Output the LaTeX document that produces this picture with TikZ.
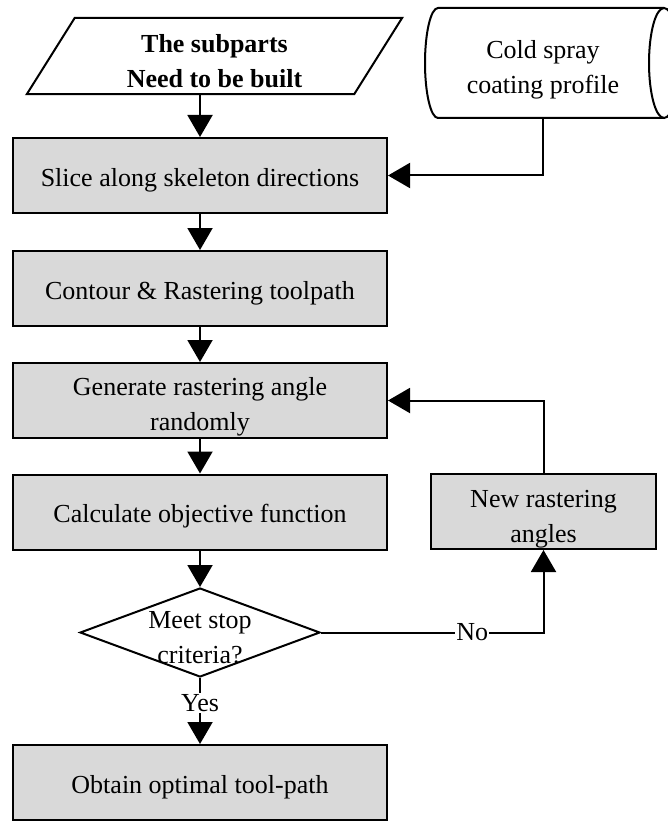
\documentclass[tikz,border=0pt]{standalone}
\usepackage{fontspec}
\setmainfont{Liberation Serif}
\usetikzlibrary{arrows.meta,shapes.geometric}
\definecolor{stepgray}{RGB}{217,217,217}
\newcommand{\padtop}[1]{\rule{0pt}{#1}}

\begin{document}
\begin{tikzpicture}[x=1pt,y=-1pt,font=\fontsize{26}{35}\selectfont,
  stepbox/.style={draw,fill=stepgray,line width=2pt,minimum width=374pt,minimum height=75pt,inner sep=0pt,align=center},
  oneline/.style={text height=21pt,text depth=0pt},
  arr/.style={line width=2pt,-{Triangle[length=22pt,width=25pt]}},
  lab/.style={fill=white,inner sep=1pt}]
\useasboundingbox (0,0) rectangle (667,821);

\node[font=\fontsize{26}{35}\selectfont\bfseries,minimum width=327pt,minimum height=76pt,inner sep=0pt,align=center] (parts) at (214.5,56) {\padtop{28pt}The subparts\\Need to be built};
\draw[line width=2pt] ([xshift=-24pt]parts.south west) -- ([xshift=24pt]parts.north west) -- ([xshift=24pt]parts.north east) -- ([xshift=-24pt]parts.south east) -- cycle;

\node[minimum width=200pt,minimum height=110pt,inner sep=0pt,align=center] (coat) at (543,63) {\padtop{31pt}Cold spray\\coating profile};
\draw[line width=2pt] (664,8) -- (438,8) arc[start angle=90,end angle=270,x radius=13pt,y radius=55pt] -- (664,118);
\draw[line width=2pt] (664,63) ellipse[x radius=15pt,y radius=55pt];

\node[stepbox,oneline] (slice) at (200,175.5) {Slice along skeleton directions};
\node[stepbox,oneline] (contour) at (200,288.5) {Contour \& Rastering toolpath};
\node[stepbox] (gen) at (200,400.5) {\padtop{31pt}Generate rastering angle\\randomly};
\node[stepbox,oneline] (calc) at (200,512) {Calculate objective function};
\node[draw,diamond,line width=2pt,minimum width=240pt,minimum height=89pt,inner sep=0pt,
  label={[align=center]center:\padtop{28pt}Meet stop\\criteria?}] (stop) at (200,632.5) {};
\node[stepbox,oneline] (best) at (200,782.5) {Obtain optimal tool-path};
\node[stepbox,minimum width=225pt] (newang) at (543.5,511.5) {\padtop{33pt}New rastering\\angles};

\draw[arr] (parts.south -| slice.north) -- (slice);
\draw[arr] (coat) |- (slice);
\draw[arr] (slice) -- (contour);
\draw[arr] (contour) -- (gen);
\draw[arr] (gen) -- (calc);
\draw[arr] (calc) -- (stop);
\draw[arr] (stop) -- node[lab,pos=0.38]{Yes} (best);
\draw[arr] (stop) -| node[lab,pos=0.34]{No} (newang);
\draw[arr] (newang) |- (gen);
\end{tikzpicture}
\end{document}
